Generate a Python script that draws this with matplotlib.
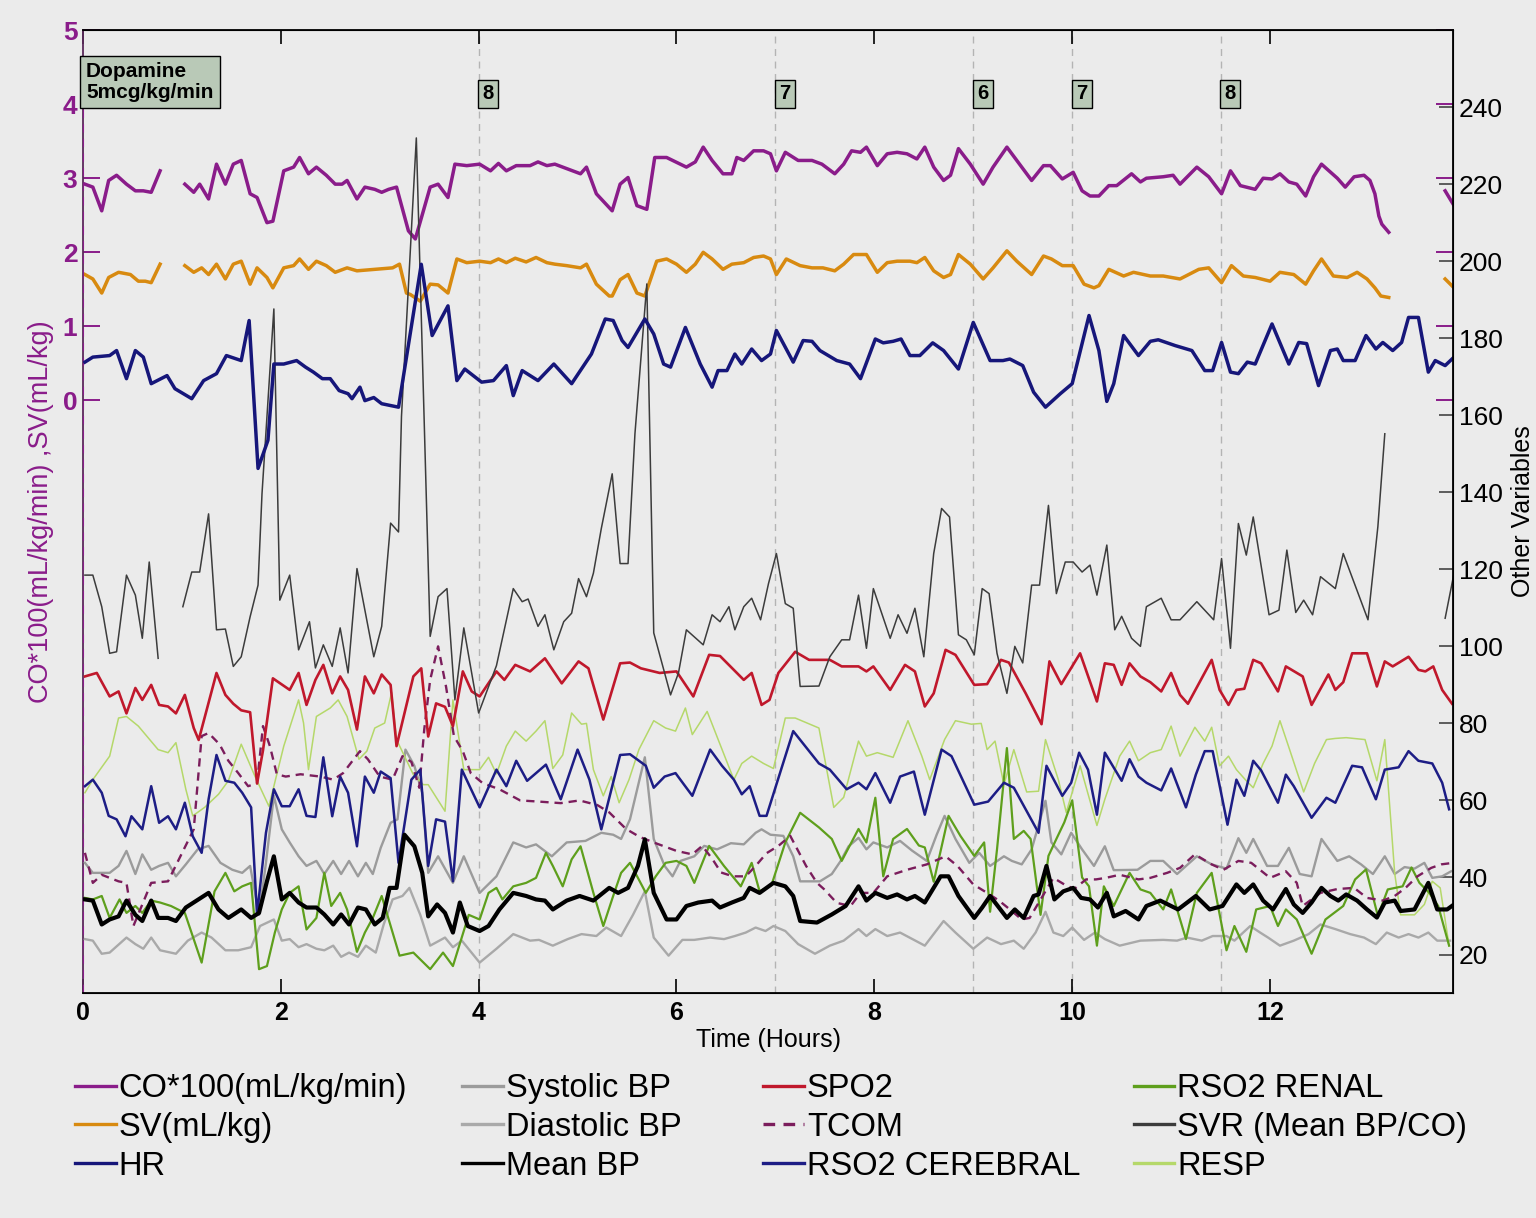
import numpy as np
import matplotlib
matplotlib.use("Agg")
import matplotlib.pyplot as plt

plt.rcParams['font.family'] = ['Liberation Sans', 'DejaVu Sans']

nan = np.nan

# ---- data: (hours, value) ----
# left axis (CO*100, SV)
CO = [(0.02,2.92),(0.10,2.88),(0.19,2.56),(0.26,2.97),(0.34,3.04),(0.44,2.92),(0.53,2.83),(0.61,2.83),(0.69,2.81),(0.78,3.10),(0.90,nan),
      (1.03,2.92),(1.12,2.81),(1.18,2.92),(1.27,2.72),(1.35,3.19),(1.44,2.92),(1.52,3.19),(1.60,3.24),(1.69,2.79),(1.76,2.74),(1.86,2.40),(1.92,2.42),
      (2.03,3.10),(2.13,3.15),(2.19,3.28),(2.28,3.06),(2.36,3.15),(2.46,3.04),(2.55,2.92),(2.62,2.92),(2.67,2.97),(2.77,2.72),(2.85,2.88),(2.95,2.85),
      (3.02,2.81),(3.09,2.85),(3.17,2.88),(3.29,2.29),(3.36,2.18),(3.51,2.88),(3.59,2.92),(3.69,2.74),(3.76,3.19),(3.88,3.17),(4.01,3.19),(4.12,3.10),
      (4.20,3.20),(4.28,3.10),(4.38,3.17),(4.52,3.17),(4.60,3.22),(4.69,3.17),(4.77,3.19),(4.89,3.13),(5.03,3.06),(5.09,3.15),(5.19,2.79),(5.35,2.56),
      (5.43,2.92),(5.51,3.01),(5.60,2.63),(5.70,2.58),(5.78,3.28),(5.90,3.28),(6.10,3.15),(6.19,3.22),(6.27,3.42),(6.36,3.24),(6.47,3.06),(6.56,3.06),
      (6.61,3.28),(6.68,3.24),(6.78,3.37),(6.88,3.37),(6.95,3.33),(7.01,3.10),(7.10,3.35),(7.23,3.24),(7.37,3.24),(7.47,3.19),(7.60,3.06),(7.69,3.19),
      (7.77,3.37),(7.86,3.35),(7.92,3.42),(8.03,3.17),(8.13,3.33),(8.23,3.35),(8.33,3.33),(8.43,3.26),(8.51,3.42),(8.60,3.15),(8.70,2.97),(8.77,3.04),
      (8.85,3.40),(8.97,3.19),(9.10,2.92),(9.20,3.15),(9.34,3.42),(9.44,3.24),(9.59,2.97),(9.71,3.17),(9.78,3.17),(9.90,2.99),(10.01,3.08),(10.10,2.83),
      (10.18,2.76),(10.27,2.76),(10.37,2.90),(10.45,2.90),(10.60,3.06),(10.69,2.95),(10.75,3.00),(10.92,3.02),(11.02,3.04),(11.09,2.92),(11.26,3.15),
      (11.38,3.02),(11.51,2.79),(11.60,3.10),(11.70,2.90),(11.85,2.85),(11.93,3.00),(12.02,2.99),(12.10,3.06),(12.19,2.95),(12.27,2.92),(12.36,2.76),
      (12.44,3.02),(12.52,3.19),(12.68,3.00),(12.76,2.88),(12.85,3.02),(12.95,3.04),(13.01,2.97),(13.06,2.79),(13.10,2.49),(13.13,2.38),(13.20,2.27),
      (13.50,nan),(13.77,2.83),(13.86,2.63)]

SV = [(0.02,1.70),(0.10,1.64),(0.19,1.45),(0.26,1.66),(0.36,1.73),(0.48,1.70),(0.56,1.61),(0.63,1.61),(0.69,1.59),(0.78,1.84),(0.90,nan),
      (1.03,1.82),(1.12,1.73),(1.20,1.79),(1.27,1.70),(1.35,1.84),(1.44,1.64),(1.52,1.84),(1.60,1.88),(1.69,1.57),(1.76,1.79),(1.86,1.66),(1.92,1.52),
      (2.03,1.79),(2.13,1.82),(2.19,1.91),(2.28,1.77),(2.36,1.88),(2.46,1.82),(2.55,1.73),(2.67,1.79),(2.77,1.75),(2.95,1.77),(3.13,1.79),(3.20,1.84),
      (3.27,1.45),(3.31,1.43),(3.41,1.34),(3.51,1.57),(3.59,1.56),(3.69,1.45),(3.78,1.91),(3.88,1.86),(4.01,1.88),(4.12,1.86),(4.20,1.91),(4.28,1.86),
      (4.37,1.92),(4.48,1.87),(4.58,1.93),(4.69,1.86),(4.77,1.84),(4.89,1.82),(5.03,1.79),(5.09,1.84),(5.19,1.57),(5.32,1.41),(5.35,1.41),(5.43,1.63),
      (5.51,1.70),(5.60,1.45),(5.68,1.41),(5.80,1.88),(5.90,1.91),(6.00,1.84),(6.10,1.73),(6.19,1.84),(6.27,2.00),(6.36,1.91),(6.47,1.77),(6.56,1.84),
      (6.68,1.86),(6.78,1.93),(6.88,1.95),(6.95,1.91),(7.01,1.70),(7.11,1.91),(7.25,1.82),(7.37,1.79),(7.48,1.79),(7.60,1.75),(7.69,1.84),(7.79,1.97),
      (7.92,1.97),(8.03,1.73),(8.13,1.86),(8.23,1.88),(8.36,1.88),(8.43,1.86),(8.51,1.93),(8.60,1.75),(8.70,1.66),(8.77,1.70),(8.85,1.97),(8.97,1.84),
      (9.10,1.64),(9.20,1.79),(9.34,2.02),(9.44,1.88),(9.59,1.70),(9.71,1.95),(9.79,1.91),(9.90,1.82),(10.01,1.82),(10.12,1.57),(10.22,1.52),(10.27,1.55),
      (10.37,1.77),(10.52,1.68),(10.62,1.73),(10.79,1.68),(10.92,1.68),(11.09,1.64),(11.28,1.77),(11.38,1.79),(11.51,1.59),(11.61,1.82),(11.73,1.68),
      (11.85,1.66),(12.00,1.61),(12.10,1.73),(12.24,1.70),(12.36,1.57),(12.44,1.75),(12.52,1.91),(12.64,1.68),(12.78,1.66),(12.88,1.73),(12.98,1.64),
      (13.06,1.52),(13.12,1.41),(13.20,1.39),(13.50,nan),(13.77,1.64),(13.86,1.52)]

# right axis ("Other Variables")
HR = [(0.02,173.8),(0.10,175.1),(0.27,175.5),(0.34,176.8),(0.44,169.5),(0.53,176.8),(0.61,175.1),(0.69,168.2),(0.85,170.3),(0.93,166.9),(1.10,164.3),
      (1.22,169.0),(1.35,170.8),(1.45,175.5),(1.60,174.2),(1.68,184.6),(1.77,146.2),(1.87,153.5),(1.93,173.3),(2.03,173.3),(2.16,174.2),(2.25,172.5),
      (2.33,171.2),(2.42,169.5),(2.50,169.5),(2.59,166.4),(2.68,165.6),(2.72,164.3),(2.80,167.3),(2.85,163.8),(2.94,164.6),(3.02,163.0),(3.19,162.1),
      (3.42,199.2),(3.53,180.7),(3.69,188.4),(3.78,169.0),(3.86,172.0),(4.03,168.6),(4.15,169.0),(4.28,172.9),(4.35,165.1),(4.44,171.6),(4.60,169.0),
      (4.76,173.3),(4.94,168.2),(5.14,175.9),(5.28,185.0),(5.36,184.6),(5.45,179.4),(5.51,177.6),(5.68,185.0),(5.77,181.1),(5.87,173.3),(5.94,172.5),
      (6.09,182.8),(6.24,173.3),(6.36,167.3),(6.42,171.6),(6.51,171.6),(6.59,175.9),(6.66,173.3),(6.76,177.2),(6.86,174.2),(6.95,175.9),(7.01,182.0),
      (7.18,173.8),(7.28,179.4),(7.37,179.2),(7.45,176.8),(7.62,174.2),(7.75,173.3),(7.86,169.5),(8.01,179.8),(8.09,178.8),(8.19,179.2),(8.27,179.8),
      (8.36,175.5),(8.46,175.5),(8.59,178.8),(8.70,176.8),(8.85,172.0),(9.00,184.1),(9.17,174.2),(9.30,174.2),(9.37,174.6),(9.50,172.9),(9.61,166.0),
      (9.73,162.1),(9.88,165.6),(10.00,168.2),(10.17,185.9),(10.27,176.8),(10.35,163.6),(10.42,168.2),(10.52,180.7),(10.67,175.5),(10.79,179.2),
      (10.87,179.6),(11.04,178.1),(11.21,176.8),(11.34,171.6),(11.42,171.6),(11.51,178.9),(11.60,171.2),(11.68,170.8),(11.77,173.8),(11.85,173.3),
      (12.02,183.7),(12.19,173.3),(12.29,178.9),(12.37,178.6),(12.49,167.7),(12.61,176.8),(12.68,177.2),(12.74,174.2),(12.86,174.2),(12.97,180.7),
      (13.07,177.2),(13.14,178.9),(13.24,176.8),(13.33,178.9),(13.40,185.4),(13.50,185.4),(13.60,171.2),(13.67,174.2),(13.77,172.9),(13.86,175.1)]

SVR = [(0.02,118.5),(0.10,118.5),(0.19,110.3),(0.27,98.2),(0.34,98.6),(0.44,118.5),(0.53,113.3),(0.60,102.1),(0.67,121.9),(0.76,96.9),(0.90,nan),
       (1.01,110.3),(1.10,119.3),(1.18,119.3),(1.27,134.4),(1.35,104.3),(1.44,104.5),(1.52,94.8),(1.60,97.3),(1.69,107.7),(1.77,115.9),(1.81,139.6),
       (1.93,187.6),(1.99,112.0),(2.09,118.5),(2.18,99.1),(2.29,106.4),(2.35,94.4),(2.43,100.4),(2.52,94.8),(2.60,104.8),(2.68,93.1),(2.77,120.2),
       (2.94,97.3),(3.02,105.2),(3.11,132.0),(3.19,129.7),(3.22,159.7),(3.37,232.0),(3.51,102.6),(3.59,112.9),(3.68,115.0),(3.76,86.1),(3.85,104.8),
       (4.00,82.7),(4.18,95.0),(4.35,115.0),(4.44,111.6),(4.50,112.3),(4.60,105.2),(4.67,108.2),(4.76,99.1),(4.86,106.4),(4.94,108.6),(5.01,117.6),
       (5.09,112.9),(5.16,119.0),(5.24,130.6),(5.35,144.8),(5.43,121.5),(5.51,121.5),(5.58,155.2),(5.70,194.1),(5.77,103.5),(5.94,87.4),(6.02,93.1),
       (6.10,104.3),(6.27,100.4),(6.36,108.2),(6.44,106.4),(6.53,110.3),(6.59,104.3),(6.68,110.3),(6.76,112.5),(6.85,106.9),(6.93,116.3),(7.01,124.1),
       (7.10,111.1),(7.18,109.9),(7.25,89.6),(7.44,89.7),(7.55,97.3),(7.67,101.7),(7.75,101.7),(7.84,113.3),(7.92,99.5),(7.99,115.0),(8.16,102.1),
       (8.24,108.2),(8.33,103.4),(8.41,109.9),(8.50,97.3),(8.60,124.1),(8.68,135.8),(8.76,133.6),(8.85,103.0),(8.93,101.7),(9.01,97.8),(9.09,115.0),
       (9.16,113.7),(9.24,98.2),(9.34,87.8),(9.42,100.0),(9.50,95.7),(9.59,115.9),(9.67,115.9),(9.76,136.6),(9.84,113.7),(9.93,121.9),(10.01,121.9),
       (10.10,119.3),(10.18,121.1),(10.25,113.3),(10.35,126.3),(10.43,104.3),(10.50,107.8),(10.60,102.1),(10.69,100.0),(10.75,110.3),(10.90,112.5),
       (11.00,106.9),(11.09,106.9),(11.26,111.6),(11.43,106.9),(11.51,122.8),(11.60,99.5),(11.68,131.9),(11.76,123.7),(11.83,133.6),(11.99,108.2),
       (12.09,109.4),(12.17,125.0),(12.26,108.8),(12.34,112.0),(12.43,108.2),(12.51,118.1),(12.66,115.0),(12.74,124.1),(12.99,106.9),(13.09,131.1),
       (13.16,155.2),(13.50,nan),(13.77,107.3),(13.86,119.0)]

SPO2 = [(0.02,92.2),(0.14,93.1),(0.27,87.0),(0.36,88.3),(0.44,82.6),(0.53,89.2),(0.60,86.1),(0.69,90.0),(0.77,84.8),(0.86,84.4),(0.94,82.6),(1.03,87.4),
        (1.12,78.8),(1.17,75.7),(1.35,93.1),(1.44,87.4),(1.52,85.1),(1.60,83.4),(1.69,82.9),(1.76,64.4),(1.82,73.0),(1.92,91.7),(2.09,88.7),(2.18,93.1),
        (2.26,84.8),(2.35,91.3),(2.43,95.2),(2.52,87.8),(2.60,92.2),(2.68,88.7),(2.77,78.4),(2.85,92.2),(2.94,87.8),(3.02,92.7),(3.11,90.0),(3.17,74.1),
        (3.34,92.2),(3.42,94.3),(3.49,76.6),(3.57,85.2),(3.66,84.3),(3.74,79.3),(3.84,93.5),(3.93,88.3),(4.01,87.0),(4.18,93.5),(4.26,91.3),(4.37,95.2),
        (4.52,93.5),(4.67,96.9),(4.84,90.4),(5.01,96.1),(5.11,94.3),(5.26,81.0),(5.43,95.6),(5.53,95.8),(5.64,94.3),(5.83,93.1),(6.00,93.5),(6.17,87.0),
        (6.33,97.8),(6.44,97.5),(6.68,91.3),(6.76,93.1),(6.86,84.8),(6.94,86.1),(7.03,93.1),(7.20,98.6),(7.34,96.5),(7.55,96.5),(7.67,94.8),(7.84,94.8),
        (7.92,93.5),(7.99,94.8),(8.16,88.7),(8.31,95.2),(8.41,93.5),(8.51,84.4),(8.60,87.8),(8.72,99.1),(8.82,97.8),(9.01,90.0),(9.14,90.2),(9.28,96.5),
        (9.36,95.8),(9.53,87.8),(9.69,79.8),(9.77,96.1),(9.89,90.2),(10.08,98.2),(10.25,85.7),(10.33,95.6),(10.42,95.2),(10.50,90.0),(10.58,95.6),
        (10.69,92.2),(10.79,90.7),(10.90,88.3),(11.00,93.1),(11.09,87.4),(11.17,85.1),(11.41,96.5),(11.49,88.7),(11.58,84.8),(11.66,88.7),(11.74,89.0),
        (11.83,96.5),(11.91,95.6),(12.08,88.3),(12.16,94.8),(12.33,92.2),(12.42,84.8),(12.59,92.7),(12.66,88.7),(12.74,90.7),(12.83,98.2),(12.98,98.2),
        (13.08,89.6),(13.16,96.1),(13.24,94.8),(13.40,97.3),(13.50,93.9),(13.57,93.5),(13.65,94.8),(13.74,88.7),(13.84,85.1)]

TCOM = [(0.02,46.4),(0.10,38.6),(0.19,40.7),(0.36,39.0),(0.44,38.6),(0.51,27.4),(0.69,38.6),(0.86,39.0),(1.12,52.5),(1.20,76.7),(1.27,77.5),(1.38,74.6),
        (1.47,70.3),(1.57,67.1),(1.67,63.7),(1.76,64.5),(1.82,79.3),(1.89,74.1),(1.96,66.8),(2.05,66.2),(2.20,66.8),(2.40,66.2),(2.53,65.4),(2.63,67.1),
        (2.80,72.8),(2.88,70.7),(3.00,66.2),(3.13,65.4),(3.23,71.5),(3.32,70.0),(3.40,63.3),(3.45,78.4),(3.51,91.3),(3.59,100.0),(3.67,89.6),(3.75,76.7),
        (3.84,72.8),(3.92,67.1),(4.04,64.5),(4.21,62.9),(4.42,60.0),(4.61,59.7),(4.83,59.3),(5.02,60.0),(5.20,58.8),(5.32,56.9),(5.49,52.6),(5.63,50.5),
        (5.80,48.8),(6.00,46.9),(6.16,46.0),(6.26,48.2),(6.36,44.9),(6.45,41.3),(6.57,40.3),(6.70,40.3),(6.80,43.0),(6.91,46.3),(7.03,48.2),(7.15,50.8),
        (7.31,43.0),(7.42,38.6),(7.49,37.0),(7.62,33.4),(7.76,32.6),(7.86,36.0),(7.99,36.0),(8.13,40.3),(8.33,42.0),(8.53,43.4),(8.72,45.5),(8.84,43.0),
        (9.00,38.2),(9.14,36.0),(9.26,34.0),(9.37,31.7),(9.49,29.1),(9.57,29.5),(9.66,33.4),(9.81,39.9),(9.92,38.2),(10.02,37.0),(10.14,39.5),(10.24,39.5),
        (10.34,39.9),(10.48,40.7),(10.67,39.5),(10.79,39.9),(10.96,41.2),(11.09,42.5),(11.24,46.0),(11.41,43.4),(11.53,42.0),(11.68,44.3),(11.81,43.8),
        (12.00,39.9),(12.16,41.6),(12.27,38.6),(12.33,32.6),(12.51,36.0),(12.68,37.0),(12.85,37.3),(12.98,34.7),(13.14,34.0),(13.26,35.2),(13.37,37.3),
        (13.49,40.3),(13.63,42.5),(13.73,43.4),(13.85,43.8)]

RSO2_CEREBRAL = [(0.02,63.7),(0.10,65.4),(0.19,62.0),(0.26,56.0),(0.34,55.1),(0.43,50.7),(0.49,55.9),(0.60,52.5),(0.69,63.7),(0.77,54.2),(0.86,55.9),
        (0.94,52.5),(1.03,59.4),(1.11,50.7),(1.20,46.4),(1.27,60.3),(1.35,71.8),(1.44,65.1),(1.53,64.6),(1.61,62.0),(1.70,58.2),(1.76,30.3),(1.85,51.6),
        (1.93,62.9),(2.01,58.5),(2.09,58.5),(2.18,62.9),(2.26,56.0),(2.35,55.7),(2.43,71.2),(2.52,55.9),(2.60,66.2),(2.68,62.0),(2.77,48.1),(2.85,66.2),
        (2.94,62.0),(3.01,67.5),(3.11,65.8),(3.19,43.8),(3.32,65.4),(3.41,68.0),(3.49,43.0),(3.57,55.1),(3.66,54.5),(3.74,39.0),(3.83,68.0),(4.01,58.2),
        (4.18,68.0),(4.28,63.7),(4.38,70.3),(4.49,65.1),(4.68,69.3),(4.83,60.3),(5.00,73.2),(5.12,65.4),(5.24,52.5),(5.43,71.8),(5.53,72.0),(5.69,69.0),
        (5.77,63.3),(5.88,66.2),(5.99,67.1),(6.16,61.2),(6.34,73.2),(6.46,69.0),(6.58,65.4),(6.66,61.6),(6.74,63.7),(6.84,56.0),(6.91,56.0),(7.18,78.0),
        (7.44,69.6),(7.55,68.0),(7.72,62.9),(7.84,64.6),(7.92,62.9),(8.01,67.1),(8.16,59.4),(8.26,66.2),(8.40,67.5),(8.51,56.3),(8.68,73.2),(8.78,71.5),
        (9.01,58.9),(9.15,59.7),(9.31,64.6),(9.41,63.3),(9.66,51.6),(9.74,69.0),(9.90,61.2),(9.99,64.6),(10.07,72.4),(10.16,68.0),(10.25,56.3),(10.33,72.4),
        (10.50,65.1),(10.58,70.7),(10.67,66.2),(10.75,64.6),(10.90,62.6),(11.00,68.3),(11.15,58.2),(11.25,66.7),(11.34,72.8),(11.42,72.8),(11.57,53.7),
        (11.66,65.4),(11.74,61.2),(11.83,70.3),(11.91,67.8),(12.08,59.4),(12.16,66.7),(12.24,63.7),(12.42,55.5),(12.57,60.7),(12.66,59.4),(12.83,69.0),
        (12.93,68.6),(13.07,60.3),(13.16,68.0),(13.30,68.6),(13.40,72.8),(13.50,70.3),(13.64,69.6),(13.74,64.6),(13.81,57.7)]

SYSTOLIC = [(0.02,43.8),(0.10,41.2),(0.27,41.2),(0.36,43.0),(0.44,46.9),(0.53,40.9),(0.60,46.0),(0.69,42.0),(0.77,43.0),(0.86,43.8),(0.94,40.3),(1.04,43.4),
        (1.16,47.3),(1.27,48.2),(1.39,43.8),(1.51,42.0),(1.61,41.2),(1.69,43.0),(1.78,30.3),(1.85,43.8),(1.93,61.2),(2.01,52.5),(2.09,49.1),(2.18,45.5),
        (2.26,43.0),(2.36,44.3),(2.44,40.9),(2.53,44.3),(2.61,40.9),(2.69,44.3),(2.78,40.3),(2.86,43.8),(2.93,40.9),(3.01,47.7),(3.11,54.2),(3.18,55.1),
        (3.26,73.2),(3.35,69.0),(3.43,62.0),(3.49,41.2),(3.59,45.5),(3.74,38.6),(3.85,45.5),(4.01,36.0),(4.18,40.3),(4.35,49.1),(4.48,47.8),(4.58,48.6),
        (4.74,45.5),(4.89,49.1),(5.08,49.5),(5.24,51.6),(5.36,51.1),(5.44,50.0),(5.53,55.1),(5.68,71.2),(5.77,50.0),(5.88,43.0),(5.96,40.3),(6.04,44.3),
        (6.18,45.5),(6.28,48.2),(6.41,47.3),(6.55,48.9),(6.68,48.6),(6.80,51.6),(6.86,52.5),(6.95,51.1),(7.08,50.8),(7.18,45.5),(7.25,39.0),(7.45,39.0),
        (7.57,40.9),(7.66,44.3),(7.74,48.1),(7.84,50.3),(7.92,47.3),(7.99,49.1),(8.13,47.8),(8.26,49.5),(8.38,47.0),(8.53,44.3),(8.63,51.1),(8.71,56.0),
        (8.82,50.0),(8.96,43.8),(9.06,46.4),(9.17,43.0),(9.31,45.5),(9.39,44.3),(9.49,43.4),(9.59,47.3),(9.73,59.9),(9.79,49.1),(9.89,46.0),(9.99,51.6),
        (10.10,47.3),(10.22,43.0),(10.33,48.1),(10.42,41.9),(10.66,42.0),(10.79,44.3),(10.92,44.3),(11.06,40.9),(11.26,45.5),(11.41,43.4),(11.56,42.3),
        (11.68,50.2),(11.76,46.4),(11.83,50.0),(11.97,43.0),(12.08,43.0),(12.19,47.7),(12.30,40.9),(12.42,40.3),(12.52,50.0),(12.68,44.3),(12.80,45.5),
        (12.92,43.4),(13.04,40.9),(13.16,45.5),(13.26,40.9),(13.36,42.7),(13.46,42.3),(13.56,43.8),(13.64,39.9),(13.74,40.3),(13.83,41.6)]

DIASTOLIC = [(0.02,24.0),(0.10,23.6),(0.19,20.2),(0.27,20.5),(0.44,24.4),(0.53,22.7),(0.61,21.5),(0.69,24.4),(0.78,21.1),(0.94,20.2),(1.06,23.6),
        (1.20,25.7),(1.30,24.4),(1.44,21.1),(1.57,21.1),(1.70,21.9),(1.79,27.4),(1.93,29.1),(2.01,23.6),(2.09,24.0),(2.18,21.9),(2.26,22.7),(2.36,21.5),
        (2.44,21.1),(2.53,22.3),(2.61,19.4),(2.69,20.5),(2.78,19.4),(2.86,22.3),(2.96,20.5),(3.04,27.8),(3.13,34.3),(3.23,35.2),(3.30,37.3),(3.41,30.3),
        (3.51,22.3),(3.66,24.4),(3.74,21.9),(3.83,23.6),(4.01,17.9),(4.18,21.5),(4.35,25.3),(4.52,23.6),(4.61,23.8),(4.75,22.3),(4.90,24.0),(5.04,25.3),
        (5.19,24.8),(5.29,27.0),(5.44,24.8),(5.56,30.3),(5.68,36.4),(5.77,24.4),(5.92,19.7),(6.06,23.8),(6.18,23.8),(6.34,24.4),(6.48,24.0),(6.59,24.8),
        (6.70,25.7),(6.80,27.0),(6.90,26.1),(6.98,27.4),(7.10,26.1),(7.23,22.7),(7.40,20.2),(7.55,22.3),(7.69,23.6),(7.84,26.6),(7.92,24.8),(8.01,26.6),
        (8.13,24.8),(8.26,25.7),(8.40,23.8),(8.51,22.3),(8.70,28.7),(8.82,25.7),(9.00,21.5),(9.14,24.4),(9.28,22.7),(9.41,23.6),(9.51,21.5),(9.63,25.7),
        (9.73,31.1),(9.81,25.7),(9.91,24.8),(10.00,27.0),(10.12,23.8),(10.23,25.7),(10.33,24.0),(10.48,22.3),(10.69,23.6),(10.92,23.8),(11.06,23.6),
        (11.16,24.4),(11.31,23.6),(11.42,24.8),(11.56,24.8),(11.64,23.6),(11.80,27.4),(11.90,25.7),(11.98,24.4),(12.10,22.3),(12.24,23.6),(12.39,25.3),
        (12.51,27.8),(12.66,26.6),(12.81,25.3),(12.95,24.4),(13.07,22.7),(13.18,25.7),(13.30,24.4),(13.40,25.3),(13.50,24.4),(13.60,25.7),(13.69,23.6),
        (13.82,23.6)]

MEAN_BP = [(0.02,34.3),(0.10,34.0),(0.19,27.8),(0.27,29.1),(0.36,29.9),(0.44,34.0),(0.53,30.3),(0.60,28.7),(0.69,34.0),(0.76,29.5),(0.86,29.5),(0.94,28.7),
        (1.04,32.2),(1.27,36.0),(1.37,31.7),(1.47,29.5),(1.60,31.7),(1.70,29.5),(1.78,30.8),(1.86,39.0),(1.93,45.5),(2.01,34.3),(2.09,36.0),(2.18,33.5),
        (2.26,32.2),(2.36,32.2),(2.44,30.4),(2.53,27.8),(2.61,30.4),(2.69,27.8),(2.78,32.2),(2.86,31.7),(2.95,27.8),(3.03,29.5),(3.10,37.3),(3.17,37.3),
        (3.25,51.1),(3.35,48.1),(3.43,41.2),(3.49,29.9),(3.58,33.0),(3.66,30.8),(3.74,25.7),(3.81,33.5),(3.89,27.4),(4.01,26.1),(4.10,27.4),(4.21,31.7),
        (4.35,36.0),(4.48,35.2),(4.58,34.3),(4.67,34.0),(4.75,31.7),(4.89,34.0),(5.02,35.2),(5.16,34.0),(5.32,37.3),(5.41,36.0),(5.51,37.3),(5.61,43.0),
        (5.68,49.9),(5.77,36.0),(5.90,29.1),(6.00,29.1),(6.10,32.6),(6.22,33.5),(6.36,34.0),(6.44,32.2),(6.56,33.5),(6.68,34.7),(6.74,37.3),(6.84,36.0),
        (6.98,38.6),(7.10,37.7),(7.18,35.2),(7.25,28.7),(7.42,28.3),(7.57,30.4),(7.71,32.6),(7.84,37.7),(7.92,34.0),(8.01,36.0),(8.13,34.7),(8.23,35.6),
        (8.33,34.3),(8.41,35.2),(8.51,33.5),(8.67,40.3),(8.75,40.3),(8.85,35.2),(9.01,29.5),(9.09,32.2),(9.17,35.2),(9.26,32.2),(9.34,29.5),(9.42,31.7),
        (9.51,29.5),(9.61,35.2),(9.66,35.6),(9.74,43.0),(9.82,34.3),(9.91,36.4),(10.01,37.3),(10.09,34.7),(10.18,34.3),(10.26,32.2),(10.35,36.0),
        (10.42,29.9),(10.54,31.3),(10.67,29.1),(10.75,32.6),(10.89,34.0),(11.07,31.7),(11.25,35.2),(11.39,31.7),(11.52,32.6),(11.66,38.2),(11.74,36.0),
        (11.83,38.2),(11.93,34.0),(12.03,31.7),(12.16,37.0),(12.24,33.0),(12.33,30.8),(12.42,33.5),(12.52,37.3),(12.61,35.2),(12.69,34.0),(12.77,35.6),
        (12.88,34.0),(12.98,31.7),(13.08,29.6),(13.16,33.5),(13.26,34.0),(13.32,31.3),(13.46,31.7),(13.60,38.6),(13.69,31.7),(13.79,31.7),(13.86,33.0)]

RSO2_RENAL = [(0.02,34.7),(0.10,34.3),(0.19,35.2),(0.27,29.5),(0.37,34.3),(0.44,30.8),(0.53,32.6),(0.60,30.8),(0.69,34.0),(0.78,33.5),(0.89,32.6),
        (1.03,30.8),(1.20,17.9),(1.33,36.4),(1.44,41.2),(1.53,36.4),(1.61,37.7),(1.70,38.6),(1.78,16.2),(1.86,17.0),(1.94,25.7),(2.01,31.7),(2.09,36.0),
        (2.18,37.7),(2.26,26.5),(2.36,29.5),(2.44,41.2),(2.51,32.6),(2.60,36.0),(2.67,31.7),(2.77,20.7),(2.85,25.7),(2.93,29.5),(3.02,35.2),(3.10,28.3),
        (3.20,19.7),(3.34,20.5),(3.51,16.2),(3.64,20.5),(3.74,17.0),(3.90,30.3),(4.01,29.1),(4.10,36.0),(4.18,37.3),(4.24,34.3),(4.35,37.7),(4.48,38.6),
        (4.58,39.9),(4.68,46.4),(4.75,43.0),(4.85,37.7),(4.94,44.7),(5.03,48.1),(5.16,36.0),(5.26,27.4),(5.36,35.2),(5.44,41.2),(5.53,43.8),(5.69,36.0),
        (5.79,40.3),(5.89,43.8),(6.00,44.3),(6.10,43.0),(6.18,38.6),(6.33,48.2),(6.48,43.0),(6.65,37.7),(6.76,43.8),(6.84,36.4),(6.96,38.0),(7.10,49.1),
        (7.25,56.8),(7.44,53.0),(7.57,50.0),(7.67,44.3),(7.84,52.6),(7.92,49.1),(8.01,60.7),(8.09,40.3),(8.19,50.0),(8.33,52.6),(8.45,48.3),(8.51,47.8),
        (8.60,38.9),(8.75,56.0),(8.87,50.8),(9.01,45.6),(9.11,49.1),(9.17,31.1),(9.24,47.3),(9.34,73.6),(9.41,50.0),(9.51,52.1),(9.58,50.0),(9.68,30.3),
        (9.76,45.6),(9.84,50.0),(9.92,54.3),(10.00,60.0),(10.10,40.0),(10.17,37.7),(10.25,22.3),(10.32,37.7),(10.42,32.6),(10.58,41.2),(10.69,36.9),
        (10.79,36.0),(10.92,31.7),(11.00,36.9),(11.15,24.0),(11.26,36.0),(11.41,41.2),(11.56,21.1),(11.64,27.4),(11.76,20.7),(11.86,31.7),(12.00,32.6),
        (12.08,27.4),(12.16,31.7),(12.27,29.1),(12.42,20.2),(12.56,29.1),(12.74,32.6),(12.86,39.5),(12.97,42.1),(13.09,30.0),(13.19,36.9),(13.34,37.7),
        (13.43,42.6),(13.51,38.6),(13.61,36.0),(13.70,32.6),(13.81,22.3)]

RESP = [(0.02,62.0),(0.10,65.4),(0.27,71.5),(0.36,81.4),(0.44,81.8),(0.56,79.3),(0.76,73.2),(0.86,72.4),(0.94,75.0),(1.04,62.9),(1.11,56.0),(1.23,58.2),
        (1.37,61.6),(1.47,65.1),(1.60,74.6),(1.74,66.2),(1.88,58.5),(2.03,74.1),(2.18,86.1),(2.23,80.1),(2.28,68.0),(2.36,81.8),(2.50,84.0),(2.58,86.1),
        (2.67,81.8),(2.79,70.7),(2.87,72.8),(2.95,78.8),(3.05,80.1),(3.12,88.0),(3.17,75.8),(3.34,66.7),(3.44,64.1),(3.49,64.1),(3.66,57.2),(3.74,86.1),
        (3.85,68.0),(4.01,68.0),(4.10,71.2),(4.18,66.9),(4.28,74.1),(4.37,78.0),(4.48,75.4),(4.58,78.0),(4.67,80.7),(4.75,68.3),(4.85,71.8),(4.94,82.7),
        (5.04,79.8),(5.09,80.0),(5.16,68.0),(5.26,61.2),(5.34,66.2),(5.42,59.4),(5.52,65.4),(5.62,73.2),(5.77,80.7),(5.89,78.8),(5.99,78.0),(6.09,84.0),
        (6.16,77.1),(6.31,83.1),(6.58,65.4),(6.66,69.6),(6.76,71.5),(6.88,69.6),(6.98,68.3),(7.10,81.4),(7.20,81.4),(7.44,78.8),(7.59,58.2),(7.69,60.8),
        (7.84,75.4),(7.92,71.5),(8.03,72.4),(8.19,71.2),(8.34,80.7),(8.48,71.5),(8.56,65.4),(8.71,75.8),(8.82,80.7),(8.98,79.8),(9.08,80.0),(9.14,73.2),
        (9.22,75.4),(9.31,64.1),(9.41,73.2),(9.54,62.2),(9.66,62.4),(9.73,75.8),(9.86,65.4),(9.94,56.9),(10.08,69.0),(10.25,53.5),(10.33,60.3),(10.48,71.5),
        (10.58,75.4),(10.67,70.3),(10.79,72.4),(10.90,73.2),(11.00,79.3),(11.09,71.5),(11.24,79.0),(11.34,75.4),(11.41,79.0),(11.49,69.0),(11.58,71.5),
        (11.66,68.0),(11.75,65.4),(11.83,63.3),(11.93,69.6),(12.02,74.1),(12.10,80.7),(12.19,73.8),(12.34,62.2),(12.45,69.6),(12.57,75.8),(12.66,76.1),
        (12.77,76.3),(12.96,75.8),(13.08,65.1),(13.16,75.8),(13.26,41.1),(13.32,30.3),(13.46,30.3),(13.56,33.0),(13.64,39.0),(13.72,37.3),(13.81,22.3)]

# dose change markers (hour, label)
dose_t = [4.0, 7.0, 9.0, 10.0, 11.5]
dose_lbl = ['8', '7', '6', '7', '8']

left_ticks = [0, 1, 2, 3, 4, 5]
right_ticks = [20, 40, 60, 80, 100, 120, 140, 160, 180, 200, 220, 240]
x_ticks = [0, 2, 4, 6, 8, 10, 12]

PURPLE = '#8a1c8a'
BG = '#ebebeb'


def xy(series):
    a = np.array(series, dtype=float)
    return a[:, 0], a[:, 1]


fig = plt.figure(figsize=(15.36, 12.18), dpi=100, facecolor=BG)
ax = fig.add_axes([0.054, 0.1847, 0.892, 0.7906])
ax.set_facecolor(BG)
ax2 = ax.twinx()

# drug-change guide lines
for t in dose_t:
    ax.axvline(t, color='#b4b4b4', lw=1.0, ls=(0, (5, 4)), zorder=0)

# draw the right-axis variables first (lower ones behind)
lines = {}
t, v = xy(DIASTOLIC); lines['dia'], = ax2.plot(t, v, color='#a9a9a9', lw=1.7, label='Diastolic BP')
t, v = xy(SYSTOLIC); lines['sys'], = ax2.plot(t, v, color='#9b9b9b', lw=1.7, label='Systolic BP')
t, v = xy(RESP); lines['resp'], = ax2.plot(t, v, color='#b5d86a', lw=1.1, label='RESP')
t, v = xy(RSO2_RENAL); lines['renal'], = ax2.plot(t, v, color='#5e9f1c', lw=1.6, label='RSO2 RENAL')
t, v = xy(TCOM); lines['tcom'], = ax2.plot(t, v, color='#7b1d5c', lw=1.7, ls=(0, (3.5, 2.5)), label='TCOM')
t, v = xy(RSO2_CEREBRAL); lines['cer'], = ax2.plot(t, v, color='#1d1d85', lw=1.8, label='RSO2 CEREBRAL')
t, v = xy(MEAN_BP); lines['mean'], = ax2.plot(t, v, color='black', lw=3.0, label='Mean BP')
t, v = xy(SPO2); lines['spo2'], = ax2.plot(t, v, color='#c0182c', lw=1.9, label='SPO2')
t, v = xy(SVR); lines['svr'], = ax2.plot(t, v, color='#3c3c3c', lw=1.1, label='SVR (Mean BP/CO)')
t, v = xy(HR); lines['hr'], = ax2.plot(t, v, color='#16167a', lw=2.5, label='HR')

t, v = xy(CO); lines['co'], = ax2.plot([], [], color=PURPLE, lw=2.5, label='CO*100(mL/kg/min)')
ax.plot(t, v, color=PURPLE, lw=2.5)
t, v = xy(SV); lines['sv'], = ax2.plot([], [], color='#d88a10', lw=2.5, label='SV(mL/kg)')
ax.plot(t, v, color='#d88a10', lw=2.5)

# axes limits / ticks
ax.set_xlim(0, 13.85)
ax.set_ylim(-8, 5)
ax2.set_ylim(10, 260)

ax.set_xticks(x_ticks)
ax.set_xticklabels([str(x) for x in x_ticks], fontsize=18, fontweight='bold')
ax.set_yticks(left_ticks)
ax.set_yticklabels([str(x) for x in left_ticks], fontsize=19, color=PURPLE, fontweight='bold')
ax.tick_params(axis='y', direction='in', length=12, width=1.4, color=PURPLE, right=True, pad=4)
ax.tick_params(axis='x', direction='in', length=10, width=1.2, top=True, pad=6)
ax2.set_yticks(right_ticks)
ax2.set_yticklabels([str(x) for x in right_ticks], fontsize=19)
ax2.tick_params(axis='y', direction='in', length=10, width=1.2, color='#444444', pad=4)

for s in ('top', 'bottom', 'right'):
    ax2.spines[s].set_color('black')
    ax2.spines[s].set_linewidth(1.3)
ax2.spines['left'].set_visible(False)
ax.spines['left'].set_color('#5a2a5a')
ax.spines['left'].set_linewidth(1.3)
ax.axvline(0, ymin=0, ymax=12 / 13, color=PURPLE, lw=1.5, ls=(0, (4, 3)), zorder=5)

ax.set_xlabel('Time (Hours)', fontsize=18, labelpad=2)
ax.set_ylabel('CO*100(mL/kg/min) ,SV(mL/kg)', fontsize=19.5, color=PURPLE, labelpad=6)
ax2.set_ylabel('Other Variables', fontsize=18, labelpad=6)

# dose annotations
box = dict(boxstyle='square,pad=0.22', facecolor='#b9c9b7', edgecolor='black', lw=1.0)
for t, lbl in zip(dose_t, dose_lbl):
    ax2.text(t + 0.04, 243.5, lbl, fontsize=14.5, fontweight='bold', ha='left', va='center', bbox=box)
ax2.text(0.03, 246.5, 'Dopamine\n5mcg/kg/min', fontsize=15, fontweight='bold', ha='left', va='center',
         linespacing=1.1, bbox=dict(boxstyle='square,pad=0.3', facecolor='#b9c9b7', edgecolor='black', lw=1.0))

# legend: four columns placed like the original
cols = [(['co', 'sv', 'hr'], 0.049),
        (['sys', 'dia', 'mean'], 0.301),
        (['spo2', 'tcom', 'cer'], 0.497),
        (['renal', 'svr', 'resp'], 0.738)]
for keys, x0 in cols:
    hs = [lines[k] for k in keys]
    leg = fig.legend(hs, [h.get_label() for h in hs], loc='upper left', bbox_to_anchor=(x0, 0.119),
                     frameon=False, fontsize=23.5, handlelength=1.25, handletextpad=0.08,
                     labelspacing=0.24, borderaxespad=0, borderpad=0)
    for ln in leg.get_lines():
        ln.set_linewidth(2.4)

fig.savefig('out.png', dpi=100, facecolor=BG)
